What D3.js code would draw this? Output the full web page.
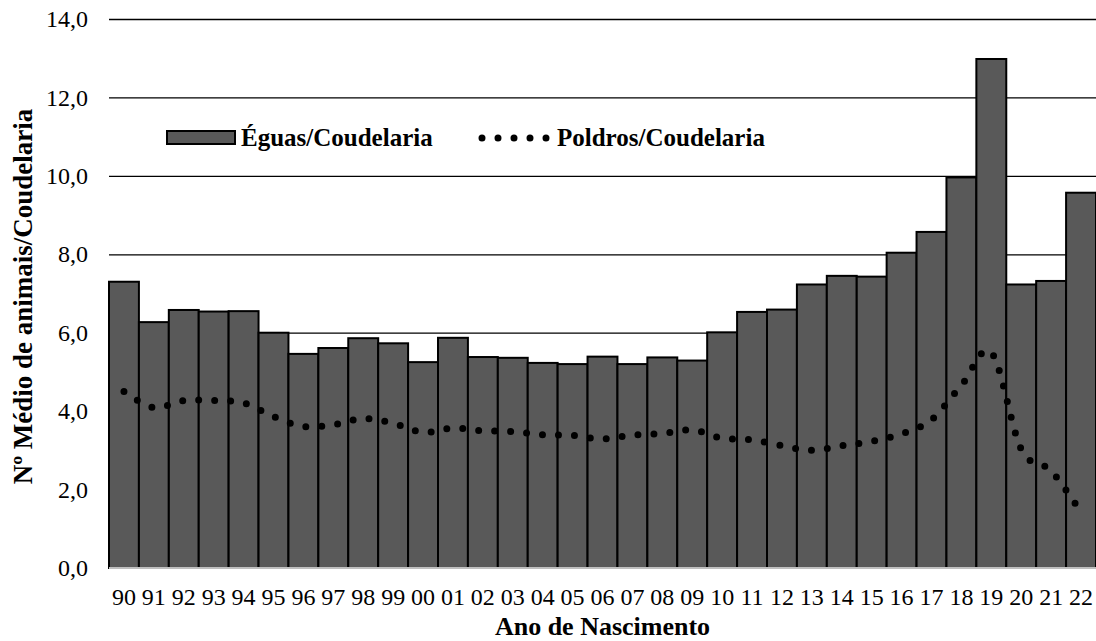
<!DOCTYPE html>
<html lang="pt">
	<head>
		<meta charset="utf-8">
		<title>Nº Médio de animais/Coudelaria</title>
		<style type="text/css">

			body {
				margin: 0;
				background-color: white;
				font-family: "Liberation Serif", "Times New Roman", serif;
			}

			svg {
				display: block;
				background-color: white;
			}

			rect.bar {
				fill: #595959;
				stroke: #000000;
				stroke-width: 2px;
			}

			path.poldros {
				fill: none;
				stroke: #000000;
				stroke-width: 7px;
				stroke-linecap: round;
				stroke-dasharray: 0, 16;
			}

			.grid line {
				stroke: #000000;
				stroke-width: 1.3px;
			}

			.grid path {
				display: none;
			}

			.axis text,
			.grid text {
				font-family: "Liberation Serif", "Times New Roman", serif;
				font-size: 24px;
				fill: #000000;
			}

			.axis path,
			.axis line {
				display: none;
			}

			line.baseline {
				stroke: #bfbfbf;
				stroke-width: 2px;
			}

			text.title,
			text.legend {
				font-weight: bold;
				fill: #000000;
			}

			text.title {
				font-size: 27px;
			}

			text.legend {
				font-size: 25px;
			}

		</style>
	</head>
	<body>

		<script type="text/javascript" src="https://cdnjs.cloudflare.com/ajax/libs/d3/7.8.5/d3.min.js"></script>
		<script type="text/javascript">

			// Ano de nascimento (dois digitos)
			var years = ["90", "91", "92", "93", "94", "95", "96", "97", "98", "99",
						 "00", "01", "02", "03", "04", "05", "06", "07", "08", "09",
						 "10", "11", "12", "13", "14", "15", "16", "17", "18", "19",
						 "20", "21", "22"];

			var eguas = [7.30, 6.27, 6.58, 6.54, 6.55, 6.00, 5.46, 5.61, 5.86, 5.73,
						 5.25, 5.87, 5.38, 5.36, 5.23, 5.20, 5.39, 5.20, 5.37, 5.29,
						 6.01, 6.53, 6.59, 7.23, 7.45, 7.43, 8.04, 8.57, 9.96, 12.98,
						 7.23, 7.32, 9.57];

			var poldros = [4.50, 4.09, 4.27, 4.27, 4.21, 3.86, 3.61, 3.65, 3.81, 3.69,
						   3.46, 3.57, 3.50, 3.48, 3.40, 3.38, 3.29, 3.39, 3.43, 3.52,
						   3.31, 3.27, 3.12, 3.00, 3.12, 3.23, 3.42, 3.78, 4.66, 5.50,
						   3.03, 2.48, 1.42];

			var yTicks = [0, 2, 4, 6, 8, 10, 12, 14];

			var legendLabels = ["Éguas/Coudelaria", "Poldros/Coudelaria"];

			var fullwidth = 1096;
			var fullheight = 641;
			var margin = { top: 19, right: 0, bottom: 73, left: 109 };

			var width = fullwidth - margin.left - margin.right;
			var height = fullheight - margin.top - margin.bottom;

			var dataset = years.map(function(y, i) {
				return { year: y, eguas: eguas[i], poldros: poldros[i] };
			});

			var xScale = d3.scaleBand()
								.domain(years)
								.range([0, width])
								.padding(0);

			var yScale = d3.scaleLinear()
								.domain([0, 14])
								.range([height, 0]);

			var commaFormat = function(d) {
				return d3.format(".1f")(d).replace(".", ",");
			};

			var svg = d3.select("body")
						.append("svg")
						.attr("width", fullwidth)
						.attr("height", fullheight)
						.append("g")
						.attr("transform", "translate(" + margin.left + "," + margin.top + ")");

			// gridlines + y labels
			var grid = svg.append("g")
				.attr("class", "grid")
				.call(d3.axisLeft(yScale)
					.tickValues(yTicks)
					.tickSize(-width)
					.tickPadding(21)
					.tickFormat(commaFormat));

			grid.selectAll(".tick line")
				.filter(function(d) { return d === 0; })
				.remove();

			svg.selectAll("rect.bar")
				.data(dataset)
				.enter()
				.append("rect")
				.attr("class", "bar")
				.attr("x", function(d) { return xScale(d.year); })
				.attr("y", function(d) { return yScale(d.eguas); })
				.attr("width", xScale.bandwidth())
				.attr("height", function(d) { return height - yScale(d.eguas); });

			svg.append("line")
				.attr("class", "baseline")
				.attr("x1", 0)
				.attr("x2", width)
				.attr("y1", yScale(0))
				.attr("y2", yScale(0));

			var line = d3.line()
				.x(function(d) { return xScale(d.year) + xScale.bandwidth() / 2; })
				.y(function(d) { return yScale(d.poldros); })
				.curve(d3.curveCardinal);

			svg.append("path")
				.datum(dataset)
				.attr("class", "poldros")
				.attr("d", line);

			svg.append("g")
				.attr("class", "x axis")
				.attr("transform", "translate(0," + height + ")")
				.call(d3.axisBottom(xScale).tickSize(0).tickPadding(20));

			// axis titles
			svg.append("text")
				.attr("class", "title")
				.attr("text-anchor", "middle")
				.style("font-size", "26px")
				.attr("x", width / 2)
				.attr("y", height + 67)
				.text("Ano de Nascimento");

			svg.append("text")
				.attr("class", "title")
				.attr("text-anchor", "middle")
				.attr("transform", "translate(" + (32 - margin.left) + "," + (height / 2 + 3) + ") rotate(-90)")
				.text("Nº Médio de animais/Coudelaria");

			// legend
			var legend = svg.append("g")
				.attr("transform", "translate(" + (167 - margin.left) + "," + (131 - margin.top) + ")");

			legend.append("rect")
				.attr("class", "bar")
				.attr("x", 0)
				.attr("y", 0)
				.attr("width", 68)
				.attr("height", 13);

			legend.append("text")
				.attr("class", "legend")
				.attr("x", 74)
				.attr("y", 15)
				.text(legendLabels[0]);

			legend.append("path")
				.attr("class", "poldros")
				.attr("d", "M315,7H380");

			legend.append("text")
				.attr("class", "legend")
				.attr("x", 390)
				.attr("y", 15)
				.text(legendLabels[1]);

		</script>

	</body>
</html>
